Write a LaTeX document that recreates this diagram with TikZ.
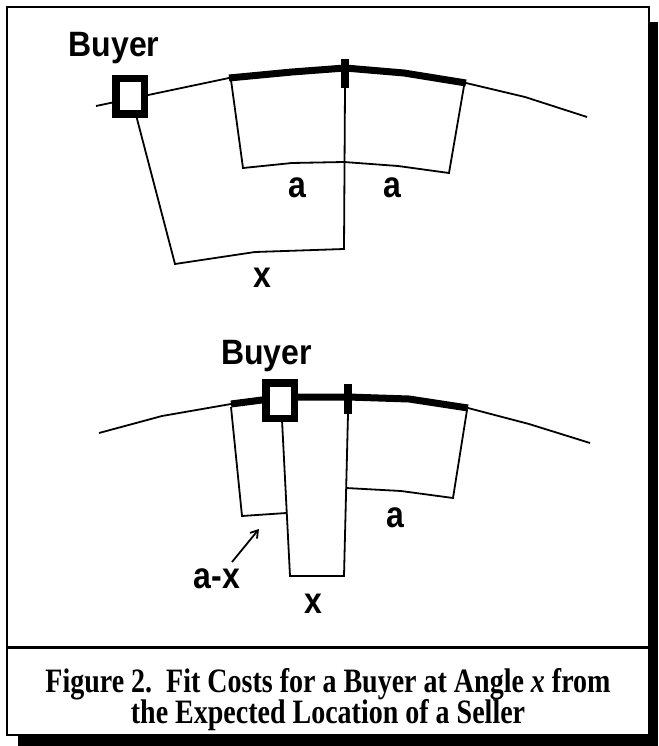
\documentclass[tikz,border=0pt]{standalone}
\usepackage{fontspec}
\usepackage{graphicx}
\setmainfont{Liberation Serif}
\setsansfont{Liberation Sans}
\usetikzlibrary{arrows.meta}
\newcommand{\vstretch}[2]{\scalebox{1}[#1]{#2}}
\begin{document}
\begin{tikzpicture}[x=1pt,y=-1pt,
  thinline/.style={line width=1.8pt, line join=miter},
  thickline/.style={line width=7pt},
  tickmark/.style={line width=8pt},
  buyerbox/.style={draw, line width=7.5pt, fill=white, minimum width=28.5pt, minimum height=35.5pt, inner sep=0pt, outer sep=0pt},
  lab/.style={font=\sffamily\bfseries\fontsize{32}{32}\selectfont, inner sep=0pt, anchor=base},
  captext/.style={font=\bfseries\fontsize{28}{30}\selectfont, inner sep=0pt, anchor=base}]
\useasboundingbox (0,0) rectangle (658,746);
% frame with shadow
\fill (18,22) rectangle (658,746);
\draw[line width=2.5pt, fill=white] (7,7) rectangle (649,735);
\draw[line width=3pt] (7,647) -- (649,647);

% ---------- top diagram ----------
\coordinate (t0) at (96,106);
\coordinate (t1) at (229,78);
\coordinate (t2) at (292,72);
\coordinate (t3) at (345,68);
\coordinate (t4) at (404,73);
\coordinate (t5) at (466,83);
\coordinate (t6) at (525,97);
\coordinate (t7) at (587,117);
\draw[thinline] (t0) -- (t1);
\draw[thinline] (t5) -- (t6) -- (t7);
\draw[thickline] (t1) -- (t2) -- (t3) -- (t4) -- (t5);
\coordinate (k1a) at (345,59);
\coordinate (k1b) at (345,88);
\draw[tickmark] (k1a) -- (k1b);
\node[buyerbox] (b1) at (130,96.5) {};
\coordinate (b1s) at (136,115);
% x bracket
\coordinate (p1) at (344,249);
\coordinate (p2) at (255,252);
\coordinate (p3) at (175,264);
\draw[thinline] (k1b) -- (p1) -- (p2) -- (p3) -- (b1s);
% a-a bracket
\coordinate (q0) at (231,80);
\coordinate (q1) at (243,168);
\coordinate (q2) at (292,163);
\coordinate (q3) at (344,162);
\coordinate (q4) at (398,166);
\coordinate (q5) at (449,173);
\coordinate (q6) at (464,86);
\draw[thinline] (q0) -- (q1) -- (q2) -- (q3) -- (q4) -- (q5) -- (q6);

\node[lab] (buy1) at (114,57) {\vstretch{1.1}{Buyer}};
\node[lab] (a1) at (297,197) {\vstretch{1.15}{a}};
\node[lab] (a2) at (392,197) {\vstretch{1.15}{a}};
\node[lab] (x1) at (262,287) {\vstretch{1.15}{x}};

% ---------- bottom diagram ----------
\coordinate (u0) at (99,433);
\coordinate (u1) at (162,416);
\coordinate (u2) at (231,404);
\coordinate (u3) at (262,400);
\coordinate (u4) at (298,397);
\coordinate (u5) at (348,397);
\coordinate (u6) at (409,399);
\coordinate (u7) at (468,408);
\coordinate (u8) at (529,424);
\coordinate (u9) at (590,443);
\draw[thinline] (u0) -- (u1) -- (u2);
\draw[thinline] (u7) -- (u8) -- (u9);
\draw[thickline] (u2) -- (u3) -- (u4) -- (u5) -- (u6) -- (u7);
\coordinate (k2a) at (348,384);
\coordinate (k2b) at (348,414);
\draw[tickmark] (k2a) -- (k2b);
\node[buyerbox] (b2) at (280,400.5) {};
\coordinate (b2s) at (282,420);
% a-x bracket
\coordinate (r0) at (231,407);
\coordinate (r1) at (242,516);
\coordinate (r2) at (286.5,513);
\draw[thinline] (r0) -- (r1) -- (r2);
% x bracket
\coordinate (s1) at (290,576);
\coordinate (s2) at (344,576);
\draw[thinline] (b2s) -- (s1) -- (s2) -- (k2b);
% a bracket
\coordinate (v0) at (346,488);
\coordinate (v1) at (401,491);
\coordinate (v2) at (453,498);
\coordinate (v3) at (467,410);
\draw[thinline] (v0) -- (v1) -- (v2) -- (v3);
% arrow
\coordinate (w0) at (232,562);
\coordinate (w1) at (259,529);
\draw[line width=1.8pt, -{Straight Barb[length=7pt,width=9pt]}] (w0) -- (w1);

\node[lab] (buy2) at (266.5,364) {\vstretch{1.1}{Buyer}};
\node[lab] (a3) at (395,527) {\vstretch{1.15}{a}};
\node[lab] (ax) at (217,588) {\vstretch{1.15}{a-x}};
\node[lab] (x2) at (313,613) {\vstretch{1.15}{x}};

% ---------- caption ----------
\node[captext] (c1) at (328,692) {\vstretch{1.22}{Figure 2.\ \ Fit Costs for a Buyer at Angle \textit{x} from}};
\node[captext] (c2) at (328,723) {\vstretch{1.22}{the Expected Location of a Seller}};
\end{tikzpicture}
\end{document}
